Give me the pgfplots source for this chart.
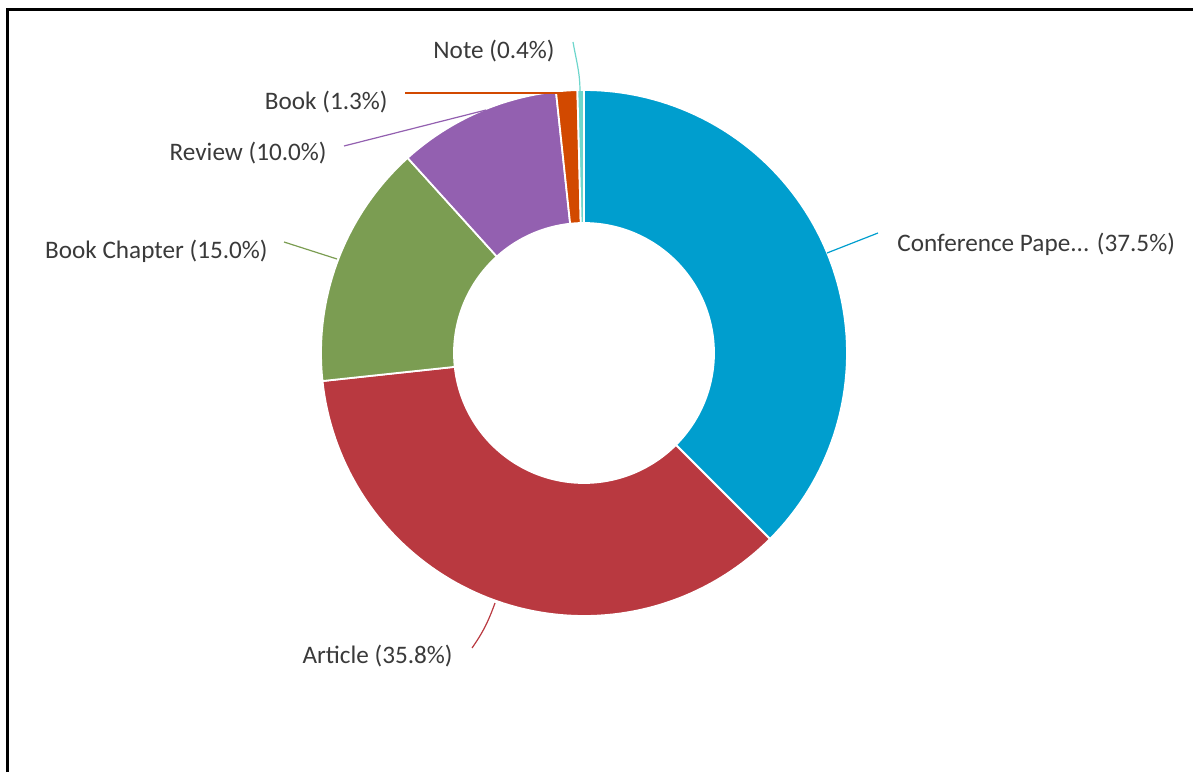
\documentclass[border=0pt]{standalone}
\usepackage{pgfplots}
\pgfplotsset{compat=1.18}
\usepackage{fontspec}
\setmainfont{Carlito}

\definecolor{cConf}{RGB}{0,158,206}
\definecolor{cArt}{RGB}{185,57,64}
\definecolor{cChap}{RGB}{123,157,82}
\definecolor{cRev}{RGB}{147,96,176}
\definecolor{cBook}{RGB}{210,73,0}
\definecolor{cNote}{RGB}{110,214,204}
\definecolor{txt}{RGB}{58,58,58}

% one ring segment: #1 = cumulative share at start (%), #2 = at end (%), #3 = colour
% ring centred at (584,419) in pixel units, outer radius 263, inner 130
% parameter x: 0..1 outer arc, 1..2 radial edge, 2..3 inner arc back
\newcommand{\ringpart}[3]{%
  \pgfmathsetmacro\sa{90-3.6*#1}%
  \pgfmathsetmacro\ea{90-3.6*#2}%
  \edef\temp{\noexpand\addplot[fill=#3, draw=white, line width=0.9pt,
    domain=0:3, samples=241]
    ({584+(263-133*min(max(x-1,0),1))*cos(\sa+(\ea-\sa)*min(x,1)-(\ea-\sa)*max(x-2,0))},
     {419+(263-133*min(max(x-1,0),1))*sin(\sa+(\ea-\sa)*min(x,1)-(\ea-\sa)*max(x-2,0))}) -- cycle;}%
  \temp
}

\begin{document}
\begin{tikzpicture}
\begin{axis}[
  name=ax,
  scale only axis,
  width=596.5pt, height=386pt,
  xmin=0, xmax=1193, ymin=0, ymax=772,
  hide axis, clip=false,
]
% shares: Conference Paper 37.5, Article 35.8, Book Chapter 15.0, Review 10.0, Book 1.3, Note 0.4
\ringpart{0}{37.5}{cConf}
\ringpart{37.5}{73.3}{cArt}
\ringpart{73.3}{88.3}{cChap}
\ringpart{88.3}{98.3}{cRev}
\ringpart{98.3}{99.6}{cBook}
\ringpart{99.6}{100}{cNote}

% leader lines
\draw[cConf, line width=0.6pt] (axis cs:827,519) -- (axis cs:878,539);
\draw[cArt, line width=0.6pt] (axis cs:495,169) to[out=-110,in=55] (axis cs:472,124);
\draw[cChap, line width=0.6pt] (axis cs:337,513) -- (axis cs:284,530);
\draw[cRev, line width=0.6pt] (axis cs:486,662) -- (axis cs:344,626);
\draw[cBook, line width=0.6pt] (axis cs:566,679) -- (axis cs:405,679);
\draw[cNote, line width=0.6pt] (axis cs:580,680) to[out=90,in=-80] (axis cs:573,730);

% labels
\begin{scope}[every node/.style={inner sep=0pt, text=txt, font=\fontsize{12.6}{14}\selectfont}]
\node[anchor=west] at (axis cs:897,528) {Conference Pape... (37.5\%)};
\node[anchor=east] at (axis cs:453,116) {Article (35.8\%)};
\node[anchor=east] at (axis cs:268,521) {Book Chapter (15.0\%)};
\node[anchor=east] at (axis cs:327,619) {Review (10.0\%)};
\node[anchor=east] at (axis cs:388,670) {Book (1.3\%)};
\node[anchor=east] at (axis cs:555,721) {Note (0.4\%)};
\end{scope}

% frame (top and left edges)
\draw[black, line width=1.5pt] (axis cs:7,0) -- (axis cs:7,762) -- (axis cs:1193,762);
\end{axis}
\pgfresetboundingbox
\path (ax.south west) rectangle (ax.north east);
\end{tikzpicture}
\end{document}
